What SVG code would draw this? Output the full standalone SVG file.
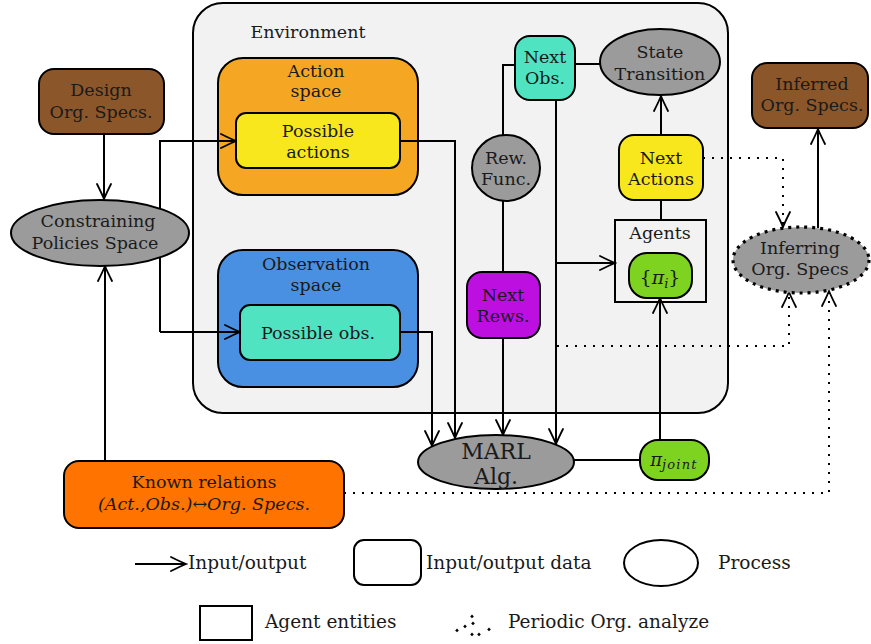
<svg xmlns="http://www.w3.org/2000/svg" width="871" height="644" viewBox="0 0 871 644">
<style>
.t{font-family:"DejaVu Serif","Liberation Serif",serif;font-size:17.5px;fill:#1a1a1a;text-anchor:middle}
.lg{font-family:"DejaVu Serif","Liberation Serif",serif;font-size:18.5px;fill:#1a1a1a}
.ln{fill:none;stroke:#000;stroke-width:2}
.ar{marker-end:url(#ah)}
.dt{fill:none;stroke:#000;stroke-width:2;stroke-dasharray:2 7}
.nb{stroke:#000;stroke-width:2}
.brown{fill:#8b572a}.gray{fill:#9b9b9b}.yel{fill:#f8e71c}.teal{fill:#50e3c2}.grn{fill:#7ed321}
</style>
<defs>
<marker id="ah" viewBox="-16 -8 18 16" markerWidth="18" markerHeight="16" refX="0" refY="0" orient="auto" markerUnits="userSpaceOnUse">
<path d="M-15,-7 Q-5,-2 0,0 Q-5,2 -15,7" fill="none" stroke="#000" stroke-width="1.8" stroke-linecap="round"/>
</marker>
</defs>

<g id="environment">
<rect x="193" y="3" width="535" height="410" rx="30" fill="#f2f2f2" class="nb"/>
<text class="t" x="308" y="38">Environment</text>
</g>
<g id="action-space">
<rect x="218" y="58" width="200" height="137" rx="25" fill="#f5a623" class="nb"/>
<text class="t" x="316" y="77">Action</text>
<text class="t" x="316" y="97">space</text>
</g>
<g id="observation-space">
<rect x="218" y="250" width="200" height="137" rx="25" fill="#4a90e2" class="nb"/>
<text class="t" x="316" y="270">Observation</text>
<text class="t" x="316" y="291">space</text>
</g>
<g id="agents">
<rect x="615" y="220" width="91" height="82" fill="#f2f2f2" class="nb"/>
<text class="t" x="660" y="239">Agents</text>
</g>

<g id="connectors">
<path class="ln ar" d="M104,134 V199"/>
<path class="ln ar" d="M105,461 V266"/>
<path class="ln ar" d="M160,332 V141 H236"/>
<path class="ln ar" d="M160,332 H240"/>
<path class="ln ar" d="M400,141 H455 V438"/>
<path class="ln ar" d="M400,332 H432 V446"/>
<path class="ln" d="M515,65 H503 V135"/>
<path class="ln" d="M503,200 V272"/>
<path class="ln ar" d="M503,338 V435"/>
<path class="ln ar" d="M556,100 V444"/>
<path class="ln ar" d="M556,263 H615"/>
<path class="ln" d="M575,64 H600"/>
<path class="ln ar" d="M661,135 V96"/>
<path class="ln" d="M661,200 V220"/>
<path class="ln" d="M573,460 H640"/>
<path class="ln ar" d="M660,440 V298"/>
<path class="ln ar" d="M818,228 V129"/>
<path class="dt ar" d="M703,158 H783 V227"/>
<path class="dt ar" d="M557,346 H789 V292"/>
<path class="dt ar" d="M344,493 H829 V291"/>
</g>

<g id="design-org-specs">
<rect x="39" y="69" width="125" height="65" rx="15" class="nb brown"/>
<text class="t" x="101" y="96">Design</text>
<text class="t" x="101" y="118">Org. Specs.</text>
</g>
<g id="constraining-policies-space">
<ellipse cx="100" cy="233" rx="89" ry="33" class="nb gray"/>
<text class="t" x="98" y="227">Constraining</text>
<text class="t" x="95" y="249">Policies Space</text>
</g>
<g id="possible-actions">
<rect x="236" y="113" width="164" height="55" rx="10" class="nb yel"/>
<text class="t" x="318" y="137">Possible</text>
<text class="t" x="318" y="158">actions</text>
</g>
<g id="possible-obs">
<rect x="240" y="305" width="160" height="55" rx="10" class="nb teal"/>
<text class="t" x="318" y="339">Possible obs.</text>
</g>
<g id="next-obs">
<rect x="515" y="36" width="60" height="64" rx="15" class="nb teal"/>
<text class="t" x="545" y="63">Next</text>
<text class="t" x="545" y="84">Obs.</text>
</g>
<g id="state-transition">
<ellipse cx="660" cy="62" rx="60" ry="33" class="nb gray"/>
<text class="t" x="660" y="58">State</text>
<text class="t" x="660" y="80">Transition</text>
</g>
<g id="rew-func">
<ellipse cx="506" cy="168" rx="34" ry="33" class="nb gray"/>
<text class="t" x="506" y="164">Rew.</text>
<text class="t" x="506" y="185">Func.</text>
</g>
<g id="next-actions">
<rect x="619" y="135" width="84" height="65" rx="15" class="nb yel"/>
<text class="t" x="661" y="164">Next</text>
<text class="t" x="661" y="185">Actions</text>
</g>
<g id="pi-i">
<rect x="629" y="253" width="63" height="45" rx="18" class="nb grn"/>
<text class="t" x="660" y="284" style="font-size:19px">{<tspan font-style="italic">π</tspan><tspan font-style="italic" font-size="13" dy="4">i</tspan><tspan dy="-4">}</tspan></text>
</g>
<g id="next-rews">
<rect x="467" y="272" width="73" height="66" rx="15" class="nb" fill="#bd10e0"/>
<text class="t" x="503" y="301">Next</text>
<text class="t" x="503" y="322">Rews.</text>
</g>
<g id="marl-alg">
<ellipse cx="496" cy="462" rx="78" ry="27" class="nb gray"/>
<text class="t" x="496" y="459" style="font-size:22px">MARL</text>
<text class="t" x="496" y="484" style="font-size:22px">Alg.</text>
</g>
<g id="pi-joint">
<rect x="640" y="440" width="69" height="40" rx="18" class="nb grn"/>
<text class="t" x="674" y="466" style="font-size:18px"><tspan font-style="italic">π</tspan><tspan font-style="italic" font-size="13" dy="3" letter-spacing="1.2">joint</tspan></text>
</g>
<g id="inferred-org-specs">
<rect x="752" y="63" width="116" height="65" rx="15" class="nb brown"/>
<text class="t" x="812" y="90">Inferred</text>
<text class="t" x="812" y="111">Org. Specs.</text>
</g>
<g id="inferring-org-specs">
<ellipse cx="801" cy="260" rx="68" ry="33" class="gray" stroke="#000" stroke-width="3.2" stroke-dasharray="3 5"/>
<text class="t" x="800" y="254">Inferring</text>
<text class="t" x="800" y="275">Org. Specs</text>
</g>
<g id="known-relations">
<rect x="64" y="461" width="280" height="67" rx="15" class="nb" fill="#ff7300"/>
<text class="t" x="204" y="488">Known relations</text>
<text class="t" x="204" y="510" font-style="italic">(Act.,Obs.)<tspan font-style="normal">↔</tspan>Org. Specs.</text>
</g>

<g id="legend">
<path class="ln ar" d="M135,564 H186"/>
<text class="lg" x="188" y="569">Input/output</text>
<rect x="354" y="540" width="67" height="45" rx="10" fill="#fff" class="nb"/>
<text class="lg" x="426" y="569">Input/output data</text>
<ellipse cx="661" cy="563" rx="37" ry="23" fill="#fff" class="nb"/>
<text class="lg" x="718" y="569">Process</text>
<rect x="200" y="606" width="52" height="34" fill="#fff" class="nb"/>
<text class="lg" x="265" y="628">Agent entities</text>
<g fill="#000">
<rect x="456" y="629" width="2.6" height="2.6" transform="rotate(45 457 630)"/>
<rect x="464" y="625" width="2.6" height="2.6" transform="rotate(45 465 626)"/>
<rect x="471" y="615" width="2.6" height="2.6" transform="rotate(45 472 616)"/>
<rect x="472" y="622" width="2.6" height="2.6" transform="rotate(45 473 623)"/>
<rect x="471" y="633" width="2.6" height="2.6" transform="rotate(45 472 634)"/>
<rect x="478" y="633" width="2.6" height="2.6" transform="rotate(45 479 634)"/>
<rect x="488" y="628" width="2.6" height="2.6" transform="rotate(45 489 629)"/>
</g>
<text class="lg" x="508" y="628">Periodic Org. analyze</text>
</g>
</svg>
